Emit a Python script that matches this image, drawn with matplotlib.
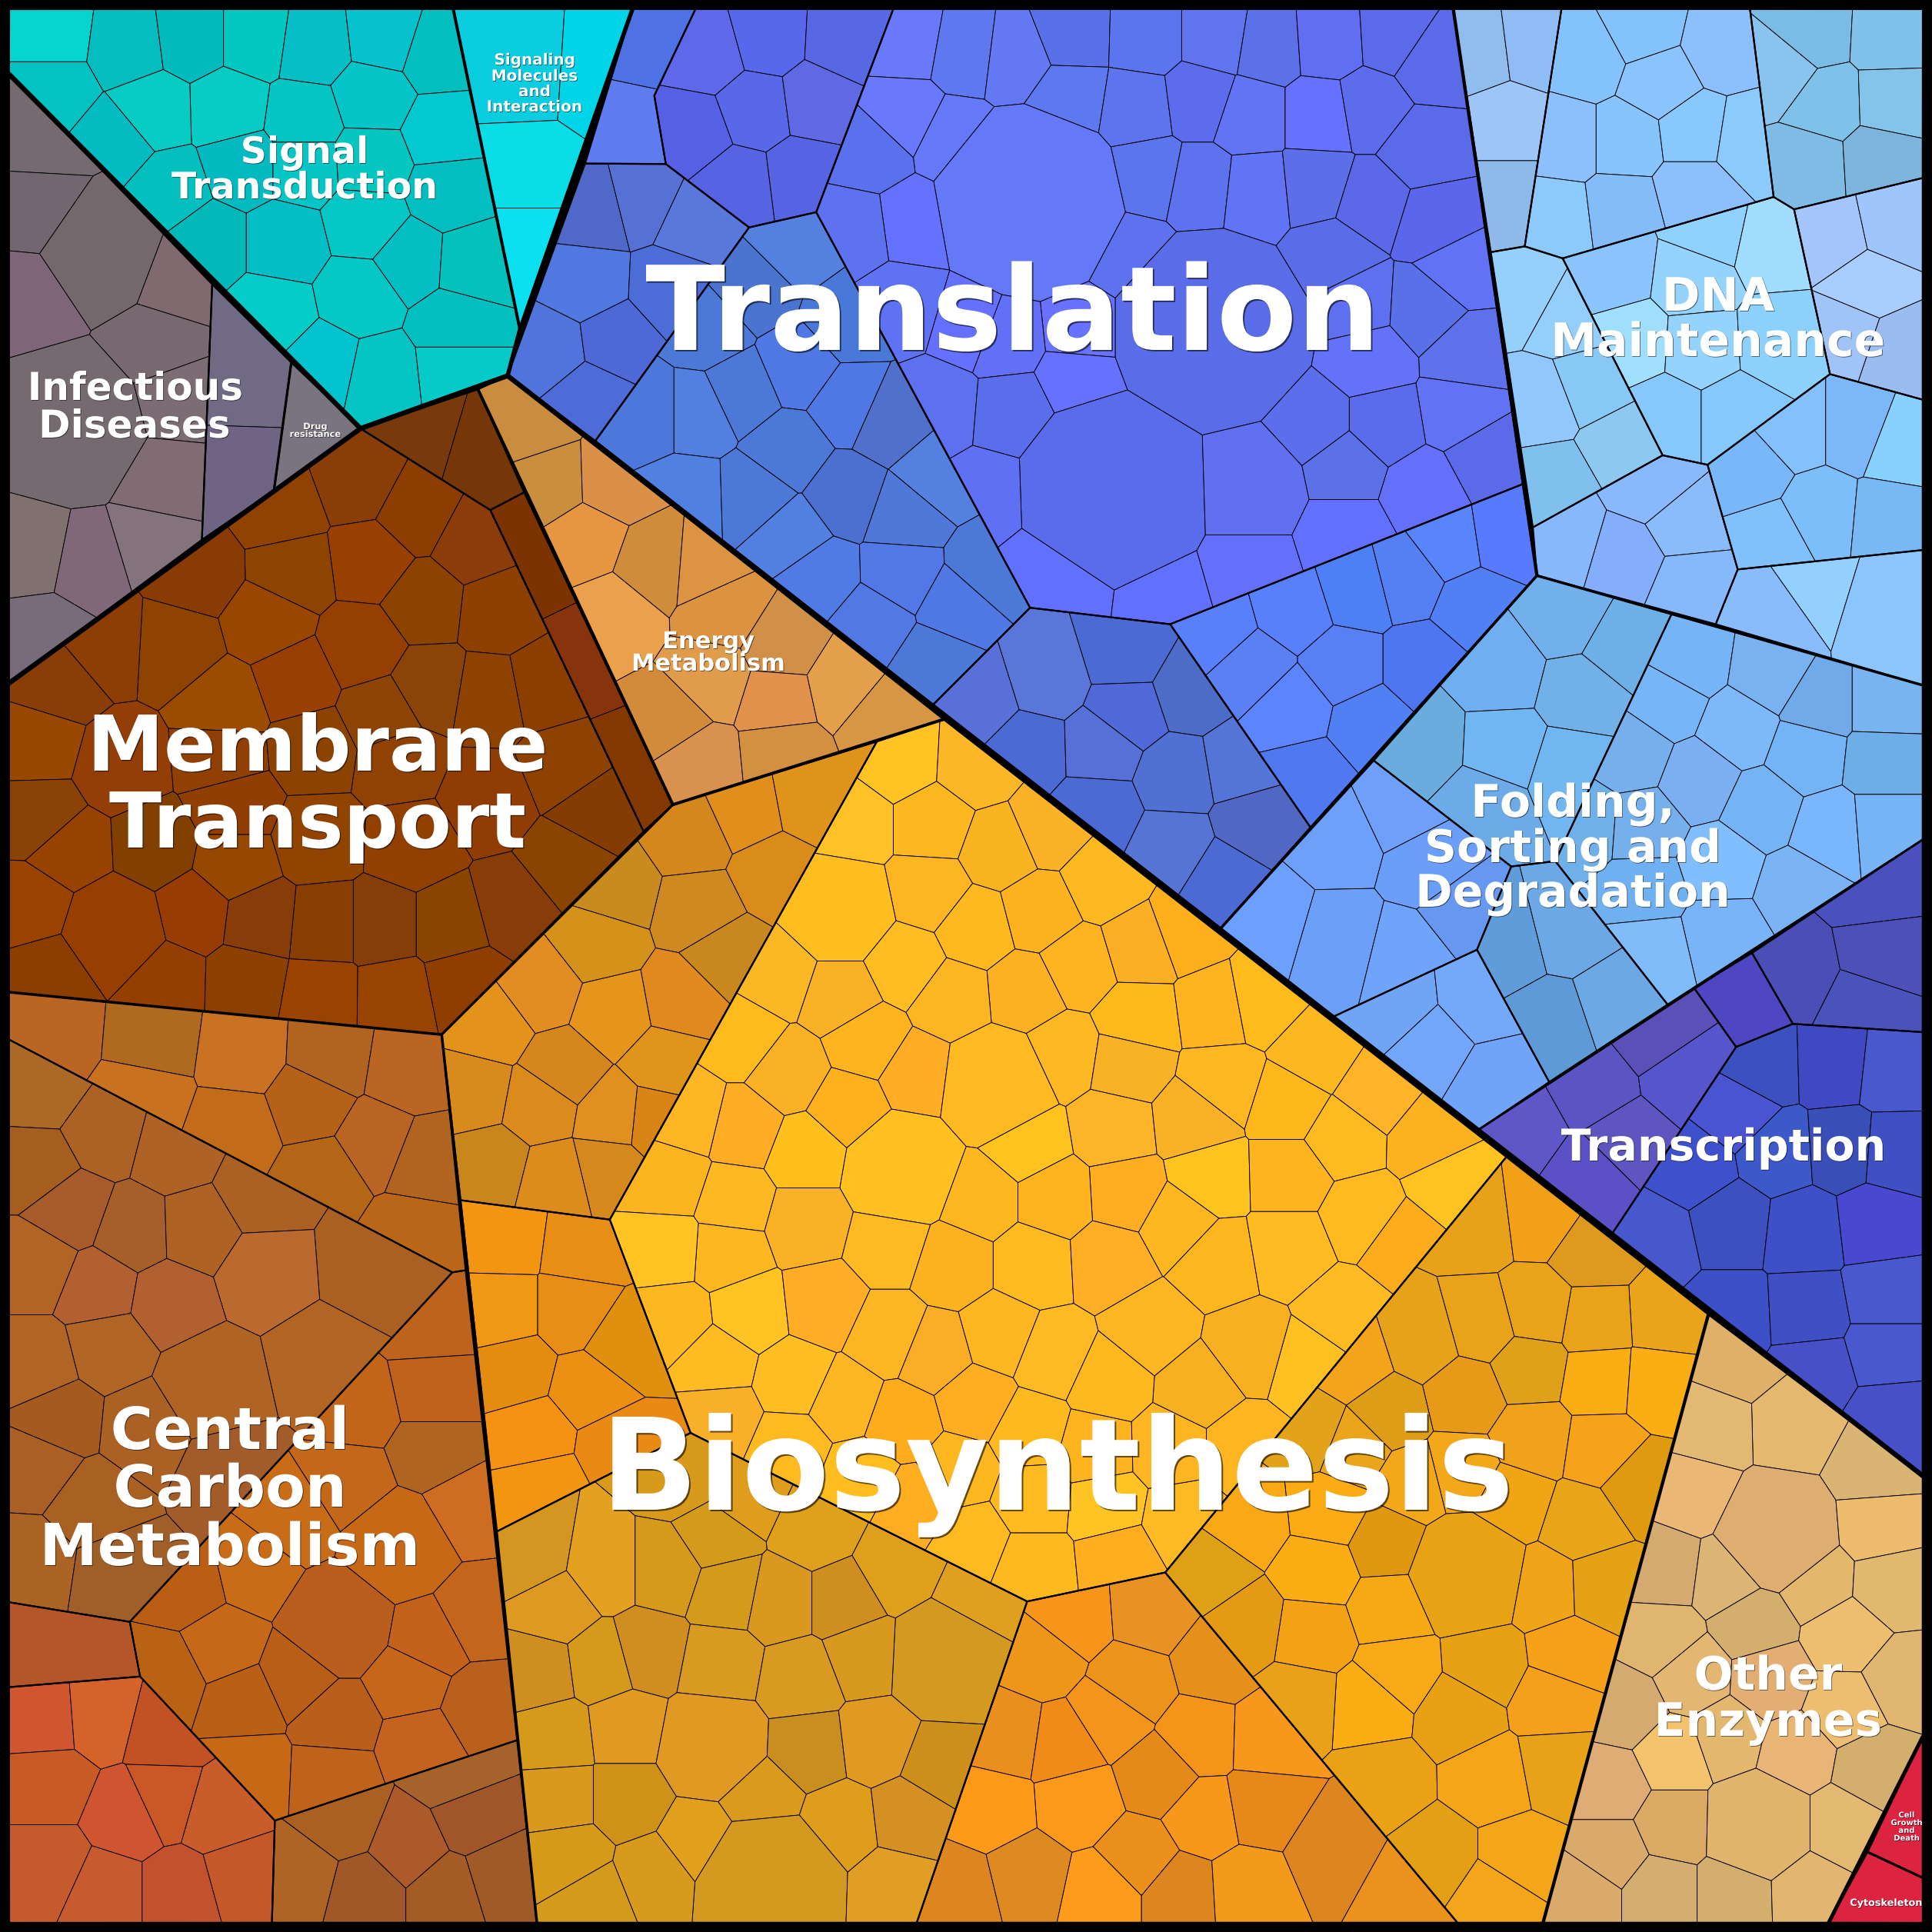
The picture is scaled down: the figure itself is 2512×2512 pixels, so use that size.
import numpy as np
import matplotlib
matplotlib.use('Agg')
import matplotlib.pyplot as plt
from matplotlib.patches import Polygon
import matplotlib.patheffects as pe

ORIG = {1:(0,0),2:(840,0),3:(1680,0),4:(0,840),5:(840,840),6:(1680,840),7:(0,1680),8:(840,1680),9:(1680,1680)}
def t(n,x,y):
    ox,oy=ORIG[n]
    sx = 832/1568 if n in (3,6,9) else 840/1568
    sy = 832/1568 if n in (7,8,9) else 840/1568
    return (ox+x*sx, oy+y*sy)
def S(n,items):
    return [t(n,a,b)+(c,) for a,b,c in items]

# ---------- seeds of the cells ----------
SIGNAL = S(1,[(125,85,'06D5CF'),(125,215,'03C2C2'),(310,110,'05BDBF'),(465,90,'03BBBB'),(620,90,'03C8C0'),(760,110,'05BEC6'),(935,90,'06C2CC'),(1060,130,'03BEBE'),(905,235,'05C5C8'),(735,290,'06C6C4'),(555,265,'08CCC4'),(370,270,'08CCC4'),(280,345,'03BCC2'),(410,460,'03C0BE'),(590,400,'03BAC0'),(900,390,'05C6C0'),(1075,320,'03C8D0'),(1090,465,'03BEC0'),(735,400,'05C6C4'),(890,540,'05C8C6'),(995,630,'03BEC2'),(1145,640,'03C2BC'),(690,590,'03BFC5'),(505,590,'03B8B8'),(660,760,'06CCC8'),(875,715,'05C8C4'),(1105,790,'03BFBF'),(785,885,'03C4CE'),(925,915,'05C4C4'),(1105,895,'06CAC8')])
SIGNALING = S(1,[(1280,180,'0ACDE0'),(1440,190,'00D5E8'),(1290,410,'0ADDE6'),(1290,600,'0AE0F0')])
INF_MAIN = S(1,[(110,330,'746A70'),(100,510,'726670'),(80,720,'7E6678'),(245,610,'74686C'),(430,680,'806A70'),(380,840,'786870'),(170,1030,'746A70'),(425,965,'7C6C74'),(405,1170,'806C72'),(85,1345,'807070'),(210,1370,'806878'),(375,1320,'84727C'),(110,1540,'786C7C')])
INF_MID = S(1,[(600,880,'716A84'),(590,1190,'6F6483')])
DRUG = S(1,[(760,1020,'7A7380')])
BR_TOP = S(1,[(1030,1060,'783A0A'),(1165,1100,'753707')])
BR_STRIP = S(1,[(1290,1350,'7D3300')])+S(4,[(1420,50,'87340C'),(1510,280,'833800')])
M1 = S(1,[(870,1170,'883E06'),(1010,1245,'8C3E02'),(680,1240,'904202'),(1150,1320,'8C3C08'),(900,1360,'984002'),(710,1385,'8C4400'),(480,1390,'883C04'),(1030,1460,'8C4200'),(650,1510,'984600'),(430,1570,'8E4400'),(250,1560,'8C3E04'),(1210,1480,'8E4000')])
M2 = S(4,[(135,90,'883E06'),(545,140,'9B4C00'),(715,80,'983F04'),(880,0,'963F02'),(1040,100,'8A4408'),(1190,125,'8E4200'),(1320,100,'8C3E00'),(1375,290,'8E4202'),(1450,400,'843C02'),(90,235,'984800'),(290,290,'923E06'),(95,415,'8A4206'),(170,500,'984202'),(375,490,'824000'),(540,270,'904004'),(570,385,'903E04'),(760,250,'8C4200'),(930,165,'8E4406'),(970,280,'904204'),(770,470,'904400'),(570,530,'964800'),(1180,370,'8F3C05'),(1000,480,'924000'),(1380,530,'8A4402'),(1245,640,'883C08'),(1095,680,'8A4400'),(925,680,'863E08'),(790,680,'883E02'),(630,665,'883C08'),(470,645,'963C04'),(275,690,'963F00'),(85,630,'9A4200'),(130,790,'8C3E00'),(400,810,'943E02'),(597,815,'8C4002'),(780,848,'9A4300'),(955,850,'984400'),(1130,815,'903E00')])
ENERGY = S(1,[(1285,1025,'CA8D40'),(1335,1175,'CA8E3F'),(1490,1170,'DB9047'),(1420,1310,'E69641'),(1490,1490,'EBA04B')])+S(2,[(20,1370,'CF8D3C'),(145,1380,'DC9342'),(190,1480,'DC9340')])+S(5,[(330,0,'D19047'),(60,180,'D28A3B'),(160,80,'E09C4A'),(320,130,'E19149'),(125,280,'D8924E'),(335,260,'D29040'),(480,95,'E49F4B'),(570,170,'D69643')])
BIO_A = S(5,[(240,400,'E08E1C'),(400,370,'E0931A'),(110,460,'D4881C'),(310,550,'D98C1A'),(130,640,'CE8A20'),(195,750,'C8881F'),(85,860,'E0891F'),(50,1010,'E0941A'),(20,1150,'D98515')])+S(4,[(1490,590,'C98A1E'),(1450,720,'D4921A'),(1310,830,'E18D22'),(1490,890,'E4951A'),(1190,920,'E39319'),(1365,1030,'D5861C'),(1150,1080,'D98A1D'),(1310,1110,'DA8B1C'),(1490,1140,'E0901F'),(1190,1260,'C8861C'),(1350,1300,'DB8C1A'),(1475,1270,'D5881C')])
BIO_B = S(4,[(1225,1430,'F29612'),(1415,1455,'E98E14')])+S(7,[(1220,50,'F09714'),(1390,50,'E88E14'),(1250,190,'E38C10'),(1430,235,'EB9012'),(1295,350,'F59214'),(1320,475,'F2950F'),(1510,130,'E0900F'),(1500,380,'E88A14')])
BIO_C1 = S(5,[(615,280,'FFC323'),(800,290,'FBB726'),(505,430,'FFC125'),(695,430,'FDB71F'),(860,490,'F9B521'),(975,440,'FBB226'),(685,595,'FDB521'),(470,640,'FFBE20'),(800,685,'FEB91F'),(955,645,'FDB31F'),(1110,570,'FEB921'),(1310,690,'FDAF1C'),(1200,730,'FBAF22'),(1050,775,'FEB421'),(920,840,'FCB123'),(745,855,'FEB523'),(630,770,'FFBD21'),(470,850,'FBB125'),(320,800,'FBB825'),(235,950,'FFBB1C'),(345,1035,'FBB124'),(535,960,'FEB41E'),(660,1040,'FFAD25'),(850,1065,'FEBA20'),(1010,990,'FEB824'),(1195,905,'FEBA1C'),(1385,880,'FDB41F'),(1170,1015,'F7B225'),(1400,1060,'FFB821'),(1135,1170,'FBB526'),(1330,1150,'F9B226'),(925,1205,'FFC21F'),(1560,1110,'FEB81C'),(1370,1290,'FFC31F'),(1560,1285,'FDB41F'),(1165,1330,'FFAE22'),(995,1340,'FEB41E'),(810,1340,'FEB71F'),(620,1270,'FFC020'),(390,1230,'FFC01E'),(490,1120,'FDB21D'),(235,1170,'FFAD24'),(110,1140,'FEB624'),(60,1300,'FDB51F'),(210,1350,'FEB821'),(390,1400,'F9B126'),(590,1450,'FEBA21'),(195,1470,'FDB71F'),(50,1460,'FFC423'),(745,1500,'FDB320'),(940,1500,'FEBA1F'),(1125,1490,'FFAF25'),(1290,1400,'FEB71F'),(1385,1490,'FEB61E'),(1560,1460,'FFBB22'),(1490,860,'FFBB1C')])
BIO_C2 = S(6,[(60,990,'FDB71F'),(205,1085,'FFB326'),(125,1190,'FEBB20'),(340,1195,'FDB31F'),(175,1385,'FEBA1E'),(390,1300,'FFC321'),(265,1450,'FDAD1C')])+S(9,[(130,50,'FFBC22'),(40,180,'FFC022')])
BIO_C3 = S(8,[(70,70,'FDB71F'),(250,50,'FFC423'),(170,170,'FEBC21'),(430,30,'FFAE25'),(590,105,'FEB524'),(700,150,'F9AE25'),(860,105,'FEB721'),(985,155,'FEBA22'),(1225,95,'FEB722'),(1465,140,'F6B020'),(1340,235,'F6B020'),(1125,220,'FEB91F'),(1450,380,'FEB51F'),(800,270,'FFAE22'),(620,320,'FDAD1C'),(480,270,'FEB722'),(360,215,'FFBE21'),(180,305,'F9B028'),(350,380,'FEBA1F'),(520,450,'FFBE20'),(650,520,'FFAE22'),(755,440,'FEB71F'),(930,340,'FEB91F'),(1090,385,'FDB41F'),(940,510,'FEBA1F'),(790,610,'FEBA1F'),(1115,525,'FFC423'),(940,670,'FEB91F'),(1145,650,'FEAE1E'),(1300,560,'FEBA22'),(1270,380,'FFB521')])
BIO_D = S(6,[(450,1400,'E8A21A'),(610,1380,'F2A017'),(740,1470,'DE9A1C')])+S(9,[(915,60,'E9A41A'),(745,70,'E9A318'),(600,45,'E9A318'),(465,80,'E8A318'),(320,120,'E6A218'),(580,185,'DFA01A'),(755,215,'FBAD14'),(895,225,'FBAD14'),(150,175,'F3A41A'),(425,250,'E69A18'),(235,295,'DD9D17'),(50,340,'E2A21A'),(150,380,'EAA51A'),(590,360,'F0A31A'),(760,385,'F6A31A'),(850,470,'E09A10'),(415,440,'F3A81A'),(295,470,'F3A81A'),(540,510,'F0A515'),(710,565,'E8A517'),(230,615,'E09810'),(90,540,'FBAC14'),(430,690,'E7A314'),(620,725,'F0A518'),(760,720,'E6A215'),(65,680,'FBAE14'),(240,775,'F5AA14'),(50,840,'F2A214'),(475,915,'E6A214'),(680,890,'F6A118'),(260,930,'F7AA16'),(190,1010,'FBAD14'),(20,1000,'E9A118'),(410,1030,'E8A114'),(640,1000,'F4A01A'),(220,1200,'EAA114'),(490,1195,'F4A618'),(650,1165,'E8A218'),(355,1385,'E4A014'),(555,1385,'F4A619'),(495,1480,'F4A61A')])+S(8,[(1370,690,'DEA014'),(1460,560,'F9A816'),(1455,815,'E59A14')])
BIO_E = S(8,[(1030,800,'F7951A'),(1230,785,'E89224'),(960,890,'EE961A'),(1180,960,'EC9419'),(1380,905,'E5901B'),(1125,1040,'F2951A'),(1345,1090,'F4951A'),(880,1090,'EA8E1E'),(1015,1110,'F08B18'),(1510,1095,'F7981C'),(1245,1185,'E58A18'),(1050,1250,'FB9A1A'),(840,1265,'FD9A18'),(1355,1285,'F7981B'),(1495,1260,'E6891A'),(760,1470,'DD8620'),(925,1430,'DD8A20'),(1110,1470,'FD9C1A'),(1195,1385,'EB901B'),(1295,1470,'DD8620'),(1460,1460,'F39A1A')])+S(9,[(100,1370,'DD8620'),(280,1470,'EB921D')])
BIO_F = S(7,[(1290,650,'D49620'),(1465,680,'E4A01F'),(1310,930,'CF8F20'),(1350,770,'DE9A20'),(1460,910,'D59A1A'),(1570,880,'D08E20'),(1350,1090,'D59A1A'),(1520,1070,'E09A22'),(1360,1240,'D8991C'),(1520,1240,'CE9218'),(1380,1385,'D49A18'),(1440,1490,'D49A1C')])+S(8,[(90,450,'D89A1A'),(240,500,'DE9E1C'),(410,580,'DFA01C'),(170,600,'D49A1A'),(605,680,'DE9F1A'),(800,770,'E0A01F'),(50,680,'D69A1A'),(200,730,'D49A1A'),(325,755,'D8991E'),(480,755,'CF8F20'),(730,900,'D49920'),(530,890,'D89A1E'),(180,915,'D89A20'),(375,950,'D89A20'),(160,1110,'E09A24'),(395,1120,'C98E20'),(560,1100,'E09A22'),(715,1160,'CE8F1A'),(280,1240,'DA9A1C'),(470,1305,'DE9E1C'),(640,1285,'D49022'),(130,1345,'E0A01C'),(300,1450,'D49A20'),(600,1460,'E09E24'),(20,1430,'D89A1C')])
CC_A = S(4,[(130,940,'BA6522'),(370,960,'B06A20'),(590,990,'C97222'),(345,1090,'C87220'),(800,1000,'B06420'),(990,1030,'BA6522'),(570,1170,'C26B18'),(750,1105,'B56218'),(915,1205,'BA6424'),(785,1290,'B36716'),(1030,1250,'B06420'),(1000,1430,'B96618')])
CC_B = S(4,[(105,1075,'AC6825'),(250,1180,'AD6225'),(425,1225,'AE6225'),(95,1265,'A55D20'),(630,1325,'AB6024'),(170,1365,'A75B2A'),(325,1420,'A75F2A'),(480,1415,'AE6224'),(900,1500,'A96022'),(640,1520,'BA6A2E'),(90,1500,'B26424'),(240,1560,'B26030'),(410,1590,'B26030')])+S(7,[(90,180,'B06525'),(265,135,'B06525'),(510,230,'B06423'),(775,170,'B26422'),(145,310,'A55A20'),(350,330,'AB6024'),(95,430,'AA6024'),(215,520,'A86122'),(80,660,'AC6425'),(280,690,'A05E28'),(560,430,'A25C2A')])
CC_C = S(7,[(1040,80,'BE631E'),(1050,240,'BF631C'),(870,280,'C26518'),(1050,395,'AF6520'),(850,470,'C26818'),(1120,530,'CE6C22'),(970,620,'C66816'),(1150,790,'C4651C'),(710,560,'C96C18'),(620,680,'C96C18'),(450,720,'BA5E14'),(820,810,'B95E1C'),(1040,850,'C4621C'),(540,870,'C56818'),(720,940,'B85E16'),(405,940,'BA6214'),(590,1000,'B96014'),(990,955,'C56618'),(820,1050,'BA5E1C'),(1170,1020,'B9601C'),(1020,1110,'C46220'),(600,1175,'C66816'),(810,1185,'BF631A')])
CC_D = S(7,[(170,860,'B5562A')])
CC_E = S(7,[(110,1050,'D05630'),(240,1040,'D56228'),(400,1080,'C25224'),(120,1200,'C75A25'),(310,1280,'CF5530'),(395,1240,'CA5826'),(535,1280,'C85C2A'),(120,1410,'C55A2C'),(250,1470,'C85A30'),(440,1470,'C2522D'),(585,1430,'C55828')])
CC_F = S(7,[(730,1430,'AE6424'),(830,1295,'A96022'),(1110,1180,'A5622A'),(990,1360,'AC5A2A'),(1150,1285,'A05628'),(885,1470,'A05828'),(1085,1470,'A45C24'),(1215,1430,'A05A28')])
OTHER = S(9,[(1090,160,'DEB068'),(1230,330,'E4B86E'),(1025,335,'E2B873'),(1425,435,'DAB473'),(985,490,'EBB775'),(1190,590,'DEAE70'),(1435,570,'ECBB6C'),(915,680,'D4AA70'),(1065,700,'DCB474'),(1285,710,'E3B76C'),(1465,720,'E0B870'),(1130,810,'D4AE6C'),(905,850,'E0B570'),(1360,840,'EDBD70'),(1490,950,'E0B570'),(980,940,'E3B772'),(1170,950,'E2AE72'),(1355,1020,'EDBD70'),(820,1020,'D4AA70'),(935,1135,'F2C26C'),(1065,1090,'E3B76E'),(1235,1130,'E9B574'),(1425,1165,'D4AE6C'),(780,1210,'DEAC74'),(935,1305,'DAAA64'),(1145,1310,'E0B46C'),(1345,1310,'E3B870'),(780,1375,'DAAA6A'),(715,1470,'DAAA6A'),(900,1470,'D4AE70'),(1085,1470,'D4AE6C'),(1265,1465,'E2B670')])
GROWTH = S(9,[(1490,1290,'DC2340')])
CYTO = S(9,[(1450,1470,'DC2340')])
TC_A = S(6,[(560,1170,'5F57C8'),(740,1070,'5B54C3'),(895,945,'5A50B8'),(960,1040,'5755CC'),(820,1200,'5E55C0'),(730,1290,'5B50C5')])
TC_B = S(6,[(1110,860,'4F46C4')])
TC_C = S(6,[(1240,790,'4C4EB8'),(1420,590,'4A50BE'),(1440,750,'4C50B8'),(1400,870,'4A52BC')])
TC_D = S(6,[(1150,1020,'3C50C0'),(1330,1015,'4048C4'),(1470,1030,'4A58D0'),(1090,1130,'4A54D0'),(1190,1230,'3D58C8'),(1350,1220,'3A4EB8'),(1475,1230,'3E50C4'),(985,1265,'3E50CC'),(890,1440,'4758CC'),(1075,1400,'3C50C0'),(1255,1420,'3E50C8'),(1430,1400,'4848D0')])+S(9,[(1075,60,'3E50C8'),(1265,50,'3E50C4'),(1455,15,'4A58D0'),(1280,190,'4850C8'),(1455,140,'4A58D0'),(1470,310,'4850C8')])
FOLD_A = S(6,[(510,60,'6FAEF0'),(710,110,'72B0E8'),(800,0,'6DB0E8'),(320,240,'6BACDE'),(520,250,'70B6F2'),(680,300,'70B6F0'),(470,385,'6CAAE8')])+S(3,[(680,1500,'72B0EC')])
FOLD_B = S(6,[(970,40,'76B4F8'),(1175,70,'78B2F0'),(1290,140,'70AAE8'),(1455,140,'78B4F0'),(920,130,'76B6F8'),(1095,200,'7DB8F8'),(1260,260,'72B4F6'),(1450,280,'6EAEE8'),(830,260,'76B0EC'),(1000,325,'7AB0F2'),(1150,395,'74B4F4'),(1320,450,'7AB6FC'),(1450,440,'76B4F6'),(720,430,'6FB0E8'),(860,440,'76B0EC'),(865,590,'6EB0F0'),(1050,530,'80BEFF'),(1240,590,'7AB4F4'),(1055,700,'7AB4F8'),(880,740,'80BCFA')])
FOLD_C = S(6,[(520,720,'609CDA'),(680,680,'6CA8E6'),(635,925,'5E9AD8'),(800,870,'6CA8E4')])
FOLD_D = S(6,[(110,470,'6CA0FA'),(270,395,'6EA0FA'),(340,530,'6A9EF8'),(115,710,'6CA0F8'),(280,750,'6EA4FA'),(420,640,'6698F0')])+S(5,[(1510,660,'6CA0FF')])
FOLD_E = S(6,[(260,880,'70A4F4'),(455,860,'74A8F8'),(340,965,'72A6F8'),(500,1060,'70A4F8')])
DNA_1 = S(3,[(465,130,'8FBDEE'),(585,115,'90BCF5'),(525,290,'9CC5F8'),(525,490,'8DBAE8')])
DNA_2 = S(3,[(725,140,'84C2FC'),(855,70,'84C2FC'),(1055,115,'8CC0FC'),(900,200,'8AC4FC'),(670,340,'8CC0FC'),(820,340,'88C4FC'),(985,320,'88C8FC'),(1115,340,'8CCAFC'),(645,530,'8CCAFC'),(810,510,'84BCF8'),(985,465,'8CC0FC')])
DNA_3 = S(3,[(1200,170,'88C4EE'),(1275,80,'7ABCE6'),(1465,90,'80C2EA'),(1310,250,'7EC2EA'),(1470,245,'84C4EA'),(1265,400,'7EBCE6'),(1440,390,'7CB4DC')])
DNA_4 = S(3,[(1330,575,'A4C4FC'),(1470,545,'A0C4FC'),(1410,690,'A8CCFC'),(1360,810,'A0C4F8'),(1480,850,'9ABCF0')])
DNA_5 = S(3,[(785,655,'8AC4FC'),(1030,560,'90D2FE'),(1170,590,'A0DCFE'),(985,680,'94D4FC'),(835,830,'A0DEFE'),(1000,840,'94D4FC'),(1190,830,'8CD0FC'),(915,1010,'84C8FC'),(1090,1010,'84C8FC')])
DNA_6 = S(3,[(570,710,'94D0FA'),(680,770,'94CEFA'),(620,980,'90C8FC'),(725,940,'88C8F4'),(800,1085,'8CC8F0'),(650,1170,'80C0EE')])
DNA_7 = S(3,[(885,1180,'8AB8FC'),(665,1310,'88B8FC'),(820,1355,'84AEFC'),(960,1270,'8ABCFC'),(975,1420,'86B8FC')])
DNA_8 = S(3,[(1120,1140,'78B8F8'),(1230,1040,'84C0FC'),(1385,1040,'7CB8F8'),(1490,1080,'88D0FE'),(1295,1245,'7CBEFA'),(1175,1310,'80C0FC'),(1460,1260,'78B8F4')])
DNA_9 = S(3,[(1280,1420,'94D0FE'),(1180,1490,'88BCFC'),(1445,1470,'8CC4FC')])
TR_MAIN = S(2,[(635,100,'6A78FA'),(775,125,'5F78F0'),(895,140,'6478F4'),(1035,85,'5A70E8'),(1215,90,'5C74EE'),(1385,90,'6074F0'),(1510,110,'5C70E8'),(625,280,'6A78FC'),(745,340,'6578F8'),(1030,235,'5E78F0'),(1190,260,'5E74EE'),(1345,240,'5C6CEC'),(1465,280,'6274F4'),(545,365,'5A70EC'),(930,490,'6478F8'),(1220,425,'5C74EC'),(1345,450,'5E72F0'),(1480,465,'6274F6'),(650,540,'6472FF'),(505,560,'5E72F0'),(1175,620,'5E72F0'),(1370,800,'5A6CE8'),(620,740,'6072F4'),(790,790,'6570FF'),(1060,800,'6872FF'),(870,820,'6270F8'),(710,985,'5C70F0'),(890,1000,'5A6EEC'),(1050,920,'6672FF'),(1135,1190,'5A6CEC'),(835,1200,'6070F4'),(995,1400,'6270FF'),(1250,1430,'6270FF'),(1460,1180,'6070F0'),(1460,1370,'6470FA')])+S(3,[(90,100,'5F6EF2'),(250,90,'5A6AE8'),(70,280,'6672FF'),(190,260,'5C6CEC'),(340,150,'5A6AE8'),(60,450,'5C6EE8'),(320,360,'5A6AE8'),(190,490,'5C68E8'),(355,540,'5C66EC'),(100,620,'5A6CE8'),(160,740,'5E70F0'),(325,750,'5A70E8'),(410,650,'6272F6'),(430,860,'5E70EA'),(190,870,'6472FA'),(410,1000,'6272F4'),(225,1030,'5A6CEC'),(55,1030,'5C6EEC'),(475,1110,'5A6AE8'),(130,1130,'5C70E8'),(325,1190,'6470FA'),(130,1295,'6270FF')])
TR_G1 = S(1,[(1560,110,'4E72E4'),(1520,300,'5E7CF0')])
TR_G2 = S(2,[(150,130,'5E68E8'),(295,90,'5868EC'),(480,100,'5868E4'),(115,320,'5660E4'),(265,265,'5868E8'),(415,245,'6068E4'),(220,450,'5664E4'),(380,430,'5664E4')])
TR_G3 = S(1,[(1440,510,'5068C8'),(1560,480,'5670D4'),(1420,690,'5078E0'),(1340,850,'5074DC'),(1490,830,'4E68D8'),(1430,960,'4E6CD8')])+S(2,[(120,540,'5A78DC'),(65,700,'4C6CD8')])
TR_G4 = S(2,[(360,600,'5480E0'),(260,700,'4A74D0'),(490,780,'4A78D8'),(150,800,'4C78D8'),(370,890,'5078E4'),(125,1000,'5280E0'),(230,950,'4C78D8'),(495,980,'5078E4'),(10,1000,'4C78DC'),(585,1020,'5070CC'),(345,1095,'4C78D8'),(100,1210,'5080E0'),(705,1160,'5480E0'),(485,1200,'4C70D0'),(265,1205,'4C78D8'),(630,1250,'5078D8'),(350,1300,'5280E0'),(830,1385,'4C78D8'),(420,1400,'507AE4'),(620,1395,'5278E8'),(550,1510,'5278E4'),(755,1470,'5078E4')])+S(5,[(700,40,'4C78D8')])
TR_G5 = S(5,[(970,80,'5A76D8'),(1165,20,'4C6AD4'),(810,130,'5870D8'),(1170,160,'5068D8'),(1320,110,'4C6CC8'),(930,250,'4C6AD4'),(1105,245,'5670D8'),(1290,315,'5070D4'),(1440,290,'5474D8'),(1095,400,'4C6AD4'),(1280,490,'5674D4'),(1480,430,'5068C4'),(1400,565,'4C6AD4')])
TR_G6 = S(3,[(160,1430,'4C80F4'),(280,1400,'5480F4'),(385,1320,'5884FC'),(520,1300,'587AFC'),(450,1470,'5080F4')])+S(6,[(320,50,'4E76F0'),(125,50,'5880F4'),(190,190,'5080F4'),(0,150,'5C84FC'),(40,320,'5078F0')])+S(2,[(1390,1530,'5880FC'),(1570,1480,'5880FC')])+S(5,[(1470,50,'5A80F4')])

# larger cells: (tile, x, y, radius in px)
BIG_CELLS = [(2,930,490,118),(2,1370,800,122),(2,1135,1190,120),(2,1460,1180,62),(2,995,1400,60),
             (1,245,610,72),(1,170,1030,92),(5,850,1065,68),(5,620,1270,68),(5,470,640,62),
             (9,1190,590,72),(9,1145,1310,66),(9,430,690,70),(8,300,1450,90),(8,160,1110,62),(8,730,900,70),
             (7,970,620,62),(7,820,810,62),(7,510,230,60),(4,275,690,62)]

# ---------- outlines of the groups ----------
L,R,TOP,B = 12,2500,12,2500
A=t(1,22,180); J1=t(1,875,1040); J2=t(1,1232,912); S_T=t(1,1100,22); SIG_TR=t(1,1535,22); P_SIG=t(1,1262,800)
I1=t(1,515,690); I2=t(1,490,1310); I3=t(4,22,90); D1=t(1,707,880); D2=t(1,665,1190)
B1=t(1,1160,945); B2=t(1,1190,1238); B3=t(1,1272,1195); J3=t(5,65,385); B5=t(4,1562,450); J4=t(4,1072,943); ML=t(4,22,840); J5=t(5,722,178)
BT=t(5,560,232); BL1=t(4,1118,1345); BL2=t(4,1480,1392); BC1=t(8,108,345); BC2=t(7,1205,587)
BR1=t(6,525,1240); BR2=t(8,1260,687); BR3=t(8,925,758); BE=t(9,1020,55); BB1=t(9,615,1545); BB2=t(9,405,1545); BB3=t(8,657,1545); BB4=t(7,1303,1545)
C1=t(4,1130,1515); C2=t(4,1098,1520); CL1=t(4,22,955); C3=t(7,315,808); CL2=t(7,22,760); C4=t(7,1255,1098); C5=t(7,667,1295); C6=t(7,340,942); CL3=t(7,22,968); C7=t(7,660,1545)
TR1=t(2,600,22); TR2=t(2,413,515); TR3=t(2,932,1475); TR4=t(2,1272,1515); TR5=t(3,565,1175); TR6=t(3,395,22); J6=t(3,600,1397)
G2a=t(2,120,22); G2b=t(2,20,232); G2c=t(2,48,398); G4=t(2,250,552); G1b=t(1,1420,397); G5=t(1,1445,1070); G6=t(5,697,142); G7=t(6,45,440); G8=t(5,1395,685)
Da=t(3,660,22); Db=t(3,570,598); Dc=t(3,487,612); Dd=t(3,663,627); De=t(3,1122,22); Df=t(3,1180,478); Dg=t(3,1230,508); Dh=t(3,1545,432); Di=t(3,1545,970); Dj=t(3,1318,908); Dk=t(3,1018,1128); Dl=t(3,908,1105); Dm=t(3,590,1280); Dn=t(3,1092,1382); Do=t(3,1038,1515); Dp=t(3,1545,1335); Dq=t(6,1545,95)
Fa=t(3,930,1490); Fb=t(6,537,535); Fc=t(6,645,522); Fd=t(6,200,278); Fe=t(6,920,870); Ff=t(6,453,737); Fg=t(6,630,1058); Fh=t(6,100,900); Fi=t(6,455,1175); Fj=t(6,1545,470)
Ta=t(6,985,830); Tb=t(6,1127,745); Tc=t(6,1227,917); Td=t(6,1088,973); Te=t(6,785,1425); Tf=t(6,1545,937); Tg=t(9,1545,450)
Rd1=t(9,1545,1090); Rd2=t(9,1410,1372); Rd3=t(9,1545,1435); Rd4=t(9,1315,1545)

GROUPS = [
 ([(L,TOP),S_T,P_SIG,J2,J1,A], SIGNAL),
 ([S_T,SIG_TR,P_SIG], SIGNALING),
 ([A,I1,I2,I3], INF_MAIN), ([I1,D1,D2,I2], INF_MID), ([D1,J1,D2], DRUG),
 ([J1,B1,B3,B2], BR_TOP), ([B2,B3,J3,B5], BR_STRIP), ([J1,B2,B5,J4,ML,I3], M1+M2),
 ([B1,J2,J5,J3], ENERGY),
 ([J3,BT,BL2,BL1,J4], BIO_A), ([BL1,BL2,BC1,BC2], BIO_B), ([BT,J5,BR1,BR2,BR3,BC1,BL2], BIO_C1+BIO_C2+BIO_C3),
 ([BR1,BE,BB1,BB2,BR2], BIO_D), ([BR3,BR2,BB2,BB3], BIO_E), ([BC2,BC1,BR3,BB3,BB4], BIO_F),
 ([ML,J4,C1,C2,CL1], CC_A), ([CL1,C2,C3,CL2], CC_B), ([C2,C1,C4,C5,C6,C3], CC_C), ([CL2,C3,C6,CL3], CC_D),
 ([CL3,C6,C5,C7,(L,B)], CC_E), ([C5,C4,BB4,C7], CC_F),
 ([TR1,TR6,TR5,TR4,TR3,TR2], TR_MAIN), ([G2a,TR1,TR2,G4,G2c,G2b], TR_G2), ([SIG_TR,G2a,G2b,G2c,G1b], TR_G1),
 ([G1b,G2c,G4,G5,J2], TR_G3), ([G4,TR2,TR3,G6,G5], TR_G4), ([TR3,TR4,G7,G8,G6], TR_G5), ([TR4,TR5,J6,G7], TR_G6),
 ([TR6,Da,Db,Dc], DNA_1), ([Da,De,Df,Dd,Db], DNA_2), ([De,(R,TOP),Dh,Dg,Df], DNA_3), ([Dg,Dh,Di,Dj], DNA_4),
 ([Dd,Df,Dg,Dj,Dk,Dl], DNA_5), ([Dc,Db,Dd,Dl,Dm], DNA_6), ([Dm,Dl,Dk,Dn,Do,J6], DNA_7), ([Dk,Dj,Di,Dp,Dn], DNA_8), ([Dn,Dp,Dq,Do], DNA_9),
 ([J6,Fa,Fc,Fb,Fd], FOLD_A), ([Fa,Dq,Fj,Fe,Fc], FOLD_B), ([Fb,Fc,Fe,Fg,Ff], FOLD_C), ([Fd,Fb,Ff,Fh,G8], FOLD_D), ([Fh,Ff,Fg,Fi], FOLD_E),
 ([Fi,Ta,Td,Te], TC_A), ([Ta,Tb,Tc,Td], TC_B), ([Tb,Fj,Tf,Tc], TC_C), ([Td,Tc,Tf,Tg,Te], TC_D),
 ([BE,Tg,Rd1,Rd4,BB1], OTHER), ([Rd1,Rd3,Rd2], GROWTH), ([Rd2,Rd3,(R,B),Rd4], CYTO),
]

# heavier dividing lines: (points, width in px)
HEAVY = [([A,J1],6.4),([J1,I3],6.4),([J1,J2],6.4),([J2,Tg],6.4),([J2,P_SIG,SIG_TR],5.5),([S_T,P_SIG],4),
         ([TR6,J6],4.3),([J6,G8],3.5),([J6,Dq],3.5),([Fi,Fj],2.8),([BE,BB1],4.3),([Rd1,Rd4],5),([J3,J4],3.2),
         ([ML,J4],3.5),([J4,BC2,BB4],3.5),([B1,J3],4),([J3,J5],4),([D1,D2],3.2),([Rd2,Rd3],3.2)]

# labels: (text, centre x, baseline y, font px)
LABELS = [('Translation',1317,455,152),('Biosynthesis',1375,1963,166),
 ('Membrane',413,1002,100),('Transport',413,1102,100),
 ('Central',299,1884,75.5),('Carbon',299,1959,75.5),('Metabolism',299,2035,75.5),
 ('Signal',396,212,47.5),('Transduction',396,258,47.5),
 ('Signaling',695,84,20),('Molecules',695,105,20),('and',695,125,20),('Interaction',695,145,20),
 ('Infectious',176,520,50),('Diseases',175,569,50),('Drug',410,558,11.4),('resistance',410,568,11.4),
 ('Energy',921,843,30.5),('Metabolism',921,872,30.5),
 ('DNA',2234,404,60),('Maintenance',2234,463,60),
 ('Folding,',2045,1062,58.5),('Sorting and',2045,1121,58.5),('Degradation',2045,1179,58.5),
 ('Transcription',2241,1509,57),('Other',2299,2197,60),('Enzymes',2299,2257,60),
 ('Cell',2479,2363,10),('Growth',2479,2373,10),('and',2479,2383,10),('Death',2479,2393,10),('Cytoskeleton',2452,2478,12.8)]

def clip(poly, a, b, wa, wb):
    # keep the side of the power bisector belonging to a
    n=b-a
    m=(a+b)/2+n*(wa-wb)/(2*np.dot(n,n))
    out=[]
    k=len(poly)
    for i in range(k):
        p,q=poly[i],poly[(i+1)%k]
        dp,dq=np.dot(p-m,n),np.dot(q-m,n)
        if dp<=0: out.append(p)
        if dp*dq<0: out.append(p+(q-p)*dp/(dp-dq))
    return out

big_xy=np.array([t(n,x,y) for n,x,y,r in BIG_CELLS]); big_r=[r for *_,r in BIG_CELLS]

fig=plt.figure(figsize=(25.12,25.12),dpi=100,facecolor='black')
ax=fig.add_axes([0,0,1,1]); ax.set_xlim(0,2512); ax.set_ylim(2512,0); ax.axis('off')
px=0.72
for outline,seeds in GROUPS:
    pts=np.array([s[:2] for s in seeds],float)
    region=[np.array(p,float) for p in outline]
    if len(pts)>1:
        dd=np.hypot(*(pts[:,None,:]-pts[None,:,:]).transpose(2,0,1))
        np.fill_diagonal(dd,1e9)
        r0=0.5*np.median(dd.min(axis=1))
    else:
        r0=0
    rad=np.full(len(pts),r0)
    for k,p in enumerate(pts):
        d=np.hypot(*(big_xy-p).T)
        if d.min()<0.5: rad[k]=big_r[int(d.argmin())]
    w=rad**2
    for i,s in enumerate(seeds):
        poly=list(region)
        for j in range(len(pts)):
            if j!=i and not np.allclose(pts[i],pts[j]) and poly:
                poly=clip(poly,pts[i],pts[j],w[i],w[j])
        if len(poly)>=3:
            ax.add_patch(Polygon(np.array(poly),closed=True,facecolor='#'+s[2],edgecolor='black',lw=0.9*px,joinstyle='miter',zorder=2))
    ax.add_patch(Polygon(np.array(outline),closed=True,fill=False,edgecolor='black',lw=2.2*px,joinstyle='miter',zorder=3))
for pts,wd in HEAVY:
    a=np.array(pts)
    ax.plot(a[:,0],a[:,1],color='black',lw=wd*px,solid_capstyle='round',zorder=4)
ax.add_patch(plt.Rectangle((6,6),2500,2500,fill=False,edgecolor='black',lw=12*px,zorder=5))
for s,x,y,f in LABELS:
    off=max(0.8,f*0.012)
    ax.text(x,y,s,ha='center',va='baseline',color='white',fontweight='bold',family='DejaVu Sans',fontsize=f*px,zorder=6,
            path_effects=[pe.withSimplePatchShadow(offset=(off*px,-off*px),shadow_rgbFace='black',alpha=0.6)])
fig.savefig('out.png',dpi=100,facecolor='black')
